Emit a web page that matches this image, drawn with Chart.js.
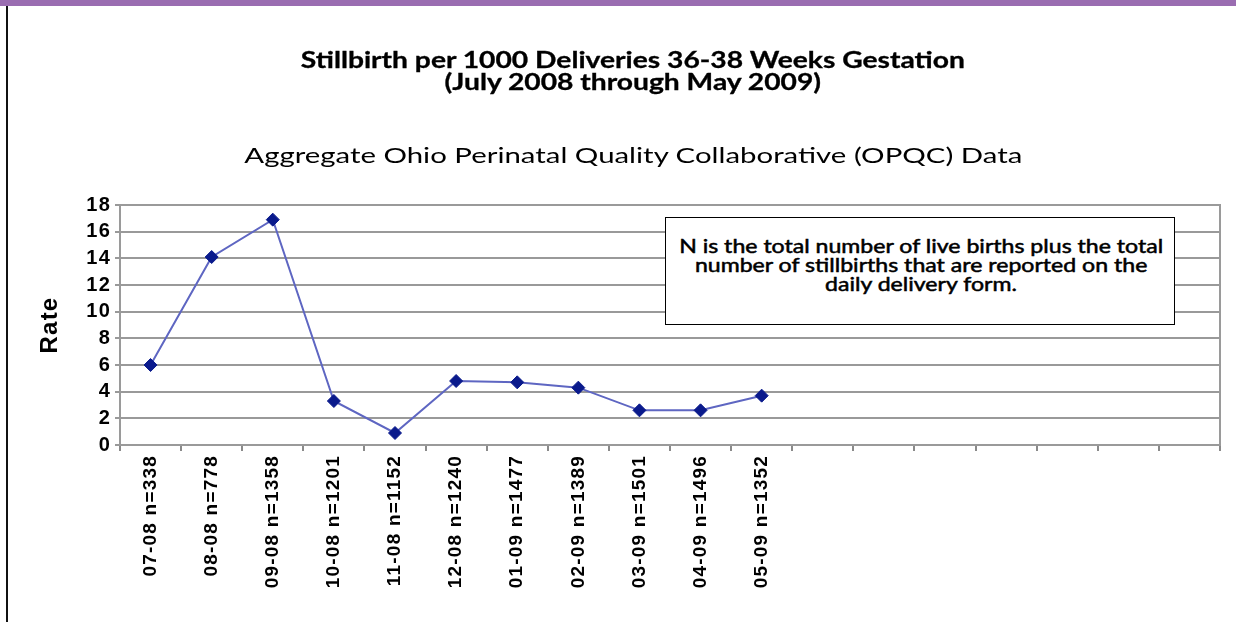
<!DOCTYPE html>
<html>
<head>
<meta charset="utf-8">
<script src="https://cdn.jsdelivr.net/npm/chart.js@4.4.1/dist/chart.umd.min.js"></script>
<style>
  html, body { margin: 0; padding: 0; background: #ffffff; }
  body { width: 1236px; height: 622px; position: relative; overflow: hidden; }
  #topbar { position: absolute; left: 0; top: 0; width: 1236px; height: 6px; background: #9a6db1; }
  #leftline { position: absolute; left: 6px; top: 6px; width: 2px; height: 616px; background: #111; }
  canvas#c { position: absolute; left: 0; top: 0; }
  .line { position: absolute; white-space: nowrap; transform-origin: center center; line-height: 1; color: #000; }
  .title { font-family: Lato, "Open Sans", sans-serif; font-weight: 700; font-size: 22px; -webkit-text-stroke: 0.3px #000; }
  .sub { font-family: Lato, "Open Sans", sans-serif; font-weight: 400; font-size: 22px; }
  #note { position: absolute; left: 665px; top: 217px; width: 508px; height: 106px; border: 1.5px solid #000; background: #fff; }
  .noteline { font-family: Lato, "Open Sans", sans-serif; font-weight: 400; font-size: 19px; -webkit-text-stroke: 0.5px #000; }
</style>
</head>
<body>
<div id="topbar"></div>
<div id="leftline"></div>
<canvas id="c" width="1236" height="622"></canvas>
<div id="texts"></div>
<div id="note"></div>
<script>
// ---- data ----
const categories = ["07-08 n=338", "08-08 n=778", "09-08 n=1358", "10-08 n=1201", "11-08 n=1152",
  "12-08 n=1240", "01-09 n=1477", "02-09 n=1389", "03-09 n=1501", "04-09 n=1496", "05-09 n=1352",
  "", "", "", "", "", "", ""];
const rateValues = [6.0, 14.1, 16.9, 3.3, 0.9, 4.8, 4.7, 4.3, 2.6, 2.6, 3.7];
const yTickMin = 0;
const yTickMax = 18;
const yTickStep = 2;
const titleLines = ["Stillbirth per 1000 Deliveries 36-38 Weeks Gestation", "(July 2008 through May 2009)"];
const subtitleText = "Aggregate Ohio Perinatal Quality Collaborative (OPQC) Data";
const noteLines = ["N is the total number of live births plus the total",
  "number of stillbirths that are reported on the", "daily delivery form."];
const yAxisTitle = "Rate";

// ---- HTML text (titles, note) ----
function placeLine(parent, cls, text, cx, cy) {
  const d = document.createElement('div');
  d.className = 'line ' + cls;
  d.textContent = text;
  parent.appendChild(d);
  const r = d.getBoundingClientRect();
  d.style.left = (cx - r.width / 2) + 'px';
  d.style.top = (cy - r.height / 2) + 'px';
  return { el: d, w: r.width };
}
function fitGroup(items, refIndex, targetW) {
  const s = targetW / items[refIndex].w;
  items.forEach(it => { it.el.style.transform = 'scaleX(' + s + ')'; });
}
const texts = document.getElementById('texts');
const t1 = placeLine(texts, 'title', titleLines[0], 633, 60);
const t2 = placeLine(texts, 'title', titleLines[1], 633, 82);
fitGroup([t1, t2], 0, 664);
const st = placeLine(texts, 'sub', subtitleText, 633, 155);
fitGroup([st], 0, 778);
const note = document.getElementById('note');
const nl = [];
[27, 46, 65].forEach((y, i) => nl.push(placeLine(note, 'noteline', noteLines[i], 255, y)));
fitGroup(nl, 0, 484);

// ---- chart ----
const frame = {
  id: 'frame',
  beforeDraw(chart) {
    if ('letterSpacing' in chart.ctx) chart.ctx.letterSpacing = '1.2px';
  },
  afterDraw(chart) {
    const a = chart.chartArea, ctx = chart.ctx;
    ctx.save();
    ctx.strokeStyle = '#9a9a9a';
    ctx.lineWidth = 2;
    ctx.beginPath();
    ctx.moveTo(a.left, a.top);
    ctx.lineTo(a.right, a.top);
    ctx.lineTo(a.right, a.bottom);
    ctx.stroke();
    ctx.restore();
  }
};

new Chart(document.getElementById('c'), {
  type: 'line',
  data: {
    labels: categories,
    datasets: [{
      data: rateValues,
      borderColor: '#5e66c2',
      borderWidth: 2,
      tension: 0,
      pointStyle: 'rectRot',
      pointRadius: 6.5,
      pointBackgroundColor: '#0a1a8c',
      pointBorderColor: '#0a1a8c',
      pointBorderWidth: 1
    }]
  },
  options: {
    responsive: false,
    animation: false,
    events: [],
    layout: { padding: { top: 205, right: 16, left: 0, bottom: 0 } },
    plugins: { legend: { display: false }, tooltip: { enabled: false }, title: { display: false } },
    scales: {
      x: {
        type: 'category',
        offset: true,
        afterFit(scale) { scale.height = 177; },
        grid: { offset: true, drawOnChartArea: false, drawTicks: true, tickLength: 6, color: '#8a8a8a', lineWidth: 2 },
        border: { display: true, color: '#9a9a9a', width: 2 },
        ticks: {
          autoSkip: false, minRotation: 90, maxRotation: 90, padding: 4, color: '#000',
          font: { family: '"Liberation Sans", Arial, sans-serif', weight: 'bold', size: 19 }
        }
      },
      y: {
        min: yTickMin, max: yTickMax,
        afterFit(scale) { scale.width = 120; },
        grid: { color: '#999999', lineWidth: 2, tickLength: 5 },
        border: { display: true, color: '#9a9a9a', width: 2 },
        ticks: {
          stepSize: yTickStep, autoSkip: false, padding: 4, color: '#000',
          font: { family: '"Liberation Sans", Arial, sans-serif', weight: 'bold', size: 20, lineHeight: 1 }
        },
        title: {
          display: true, text: yAxisTitle, color: '#000',
          font: { family: '"Liberation Sans", Arial, sans-serif', weight: 'bold', size: 24 },
          padding: { top: 36, bottom: 0 }
        }
      }
    }
  },
  plugins: [frame]
});
</script>
</body>
</html>
